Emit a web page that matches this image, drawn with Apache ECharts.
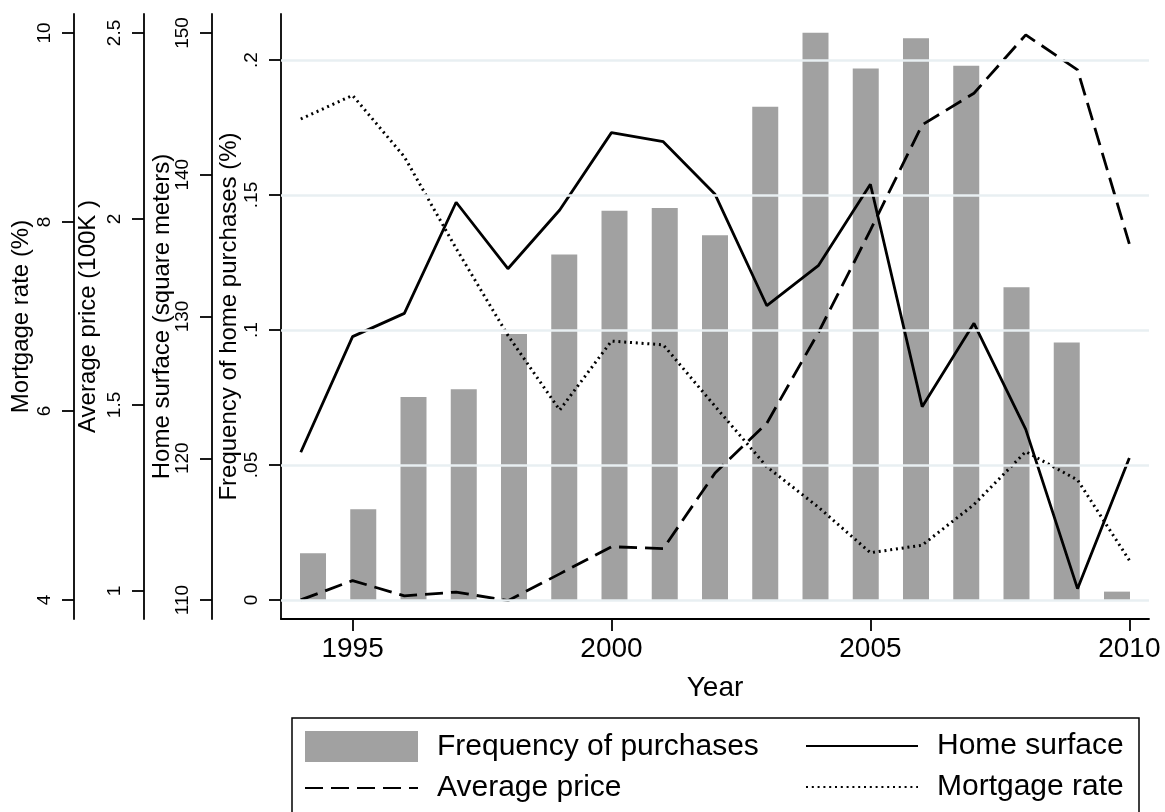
<!DOCTYPE html>
<html>
<head>
<meta charset="utf-8">
<title>Home purchases, surface, price and mortgage rate</title>
<script src="https://cdn.jsdelivr.net/npm/echarts@6/dist/echarts.min.js"></script>
<style>
  html, body { margin: 0; padding: 0; background: #fff; }
  #chart { width: 1165px; height: 812px; }
</style>
</head>
<body>
<div id="chart"></div>
<script>
// Yearly series, 1994-2010
const years = [1994, 1995, 1996, 1997, 1998, 1999, 2000, 2001, 2002,
               2003, 2004, 2005, 2006, 2007, 2008, 2009, 2010];
const purchaseFreq = [0.0173, 0.0336, 0.0752, 0.0781, 0.0985, 0.1280, 0.1442, 0.1452, 0.1351,
                      0.1827, 0.2101, 0.1969, 0.2081, 0.1979, 0.1158, 0.0954, 0.0031];
const homeSurface = [120.42, 128.58, 130.22, 138.06, 133.37, 137.51, 142.97, 142.33, 138.62,
                     130.76, 133.61, 139.33, 123.64, 129.52, 122.04, 110.80, 120.02];
const avgPrice = [0.976, 1.028, 0.987, 0.997, 0.974, 1.046, 1.119, 1.114, 1.317,
                  1.451, 1.696, 1.970, 2.253, 2.338, 2.495, 2.401, 1.933];
const mortgageRate = [9.09, 9.34, 8.69, 7.72, 6.80, 6.01, 6.74, 6.70, 6.05,
                      5.41, 4.98, 4.50, 4.58, 5.01, 5.57, 5.27, 4.42];

// Tick labels
const yearTicks = [1995, 2000, 2005, 2010];
const freqTicks = [0, 0.05, 0.1, 0.15, 0.2];
const surfaceTicks = [110, 120, 130, 140, 150];
const priceTicks = [1, 1.5, 2, 2.5];
const mortgageTicks = [4, 6, 8, 10];

const FONT = '"Liberation Sans", Arial, Helvetica, sans-serif';
const INK = '#000';

const pairs = (vals) => years.map((y, i) => [y, vals[i]]);

function yAxisDef(offset, min, max, ticks, name, gap, fmt) {
  return {
    type: 'value',
    position: 'left',
    offset: offset,
    min: min,
    max: max,
    name: name,
    nameLocation: 'middle',
    nameRotate: 90,
    nameGap: gap,
    nameMoveOverlap: false,
    nameTextStyle: { fontFamily: FONT, fontSize: 24, color: INK },
    axisLine: { show: true, onZero: false, lineStyle: { color: INK, width: 1.8 } },
    axisTick: { show: true, inside: false, length: 12, customValues: ticks,
                lineStyle: { color: INK, width: 1.8 } },
    axisLabel: { show: true, rotate: 90, margin: 20, customValues: ticks,
                 fontFamily: FONT, fontSize: 19, color: INK,
                 formatter: fmt || (v => String(v)) },
    splitLine: { show: false },
    minorTick: { show: false }
  };
}

// legend entries for lines: show the stroke only, no marker
const lineEntry = (name) => ({ name: name, itemStyle: { opacity: 0 } });

const chart = echarts.init(document.getElementById('chart'), null, { renderer: 'canvas' });

chart.setOption({
  animation: false,
  backgroundColor: '#fff',
  grid: { left: 281, right: 16, top: 14, bottom: 193, outerBoundsMode: 'none', containLabel: false },
  xAxis: [
    {
      type: 'value',
      min: 1993.618,
      max: 2010.38,
      name: 'Year',
      nameLocation: 'middle',
      nameGap: 55,
      nameMoveOverlap: false,
      nameTextStyle: { fontFamily: FONT, fontSize: 28, color: INK, verticalAlign: 'top' },
      axisLine: { show: true, onZero: false, lineStyle: { color: INK, width: 1.8 } },
      axisTick: { show: true, length: 12, customValues: yearTicks,
                  lineStyle: { color: INK, width: 1.8 } },
      axisLabel: { show: true, margin: 16, customValues: yearTicks,
                   fontFamily: FONT, fontSize: 28, color: INK,
                   formatter: v => String(v) },
      splitLine: { show: false }
    },
    {
      // bar positions
      type: 'value',
      min: 1993.363,
      max: 2010.637,
      show: false
    }
  ],
  yAxis: [
    yAxisDef(0, -0.00704, 0.21704, freqTicks, 'Frequency of home purchases (%)', 40,
             v => (v === 0 ? '0' : String(v).replace(/^0/, ''))),
    yAxisDef(69, 108.66, 151.34, surfaceTicks, 'Home surface (square meters)', 38),
    yAxisDef(137, 0.9247, 2.551, priceTicks, 'Average price (100K )', 44),
    yAxisDef(207, 3.799, 10.201, mortgageTicks, 'Mortgage rate (%)', 41)
  ],
  legend: [
    {
      left: 304, top: 731, orient: 'vertical', padding: 0,
      itemWidth: 113, itemHeight: 31, itemGap: 11,
      selectedMode: false,
      textStyle: { fontFamily: FONT, fontSize: 30, color: INK, padding: [0, 0, 0, 14] },
      data: [{ name: 'Frequency of purchases', icon: 'rect' }, lineEntry('Average price')]
    },
    {
      left: 805, top: 731, orient: 'vertical', padding: 0,
      itemWidth: 112, itemHeight: 31, itemGap: 11,
      selectedMode: false,
      textStyle: { fontFamily: FONT, fontSize: 30, color: INK, padding: [0, 0, 0, 14] },
      data: [lineEntry('Home surface'), lineEntry('Mortgage rate')]
    }
  ],
  graphic: [
    {
      type: 'rect',
      shape: { x: 292, y: 718, width: 847, height: 100 },
      style: { fill: 'none', stroke: INK, lineWidth: 1.5 },
      silent: true,
      z: 10
    }
  ],
  series: [
    {
      // horizontal reference lines at the frequency ticks
      type: 'line',
      name: 'gridlines',
      xAxisIndex: 0,
      yAxisIndex: 0,
      data: [],
      z: 1,
      silent: true,
      markLine: {
        silent: true,
        symbol: ['none', 'none'],
        label: { show: false },
        lineStyle: { color: '#e8eff2', width: 2.5, type: 'solid' },
        data: freqTicks.map(v => ({ yAxis: v }))
      }
    },
    {
      type: 'bar',
      name: 'Frequency of purchases',
      xAxisIndex: 1,
      yAxisIndex: 0,
      barWidth: 26,
      z: 2,
      itemStyle: { color: '#a1a1a1' },
      data: pairs(purchaseFreq)
    },
    {
      type: 'line',
      name: 'Home surface',
      xAxisIndex: 0,
      yAxisIndex: 1,
      symbol: 'none',
      z: 3,
      lineStyle: { color: INK, width: 2.8, type: 'solid' },
      itemStyle: { color: INK },
      data: pairs(homeSurface)
    },
    {
      type: 'line',
      name: 'Average price',
      xAxisIndex: 0,
      yAxisIndex: 2,
      symbol: 'none',
      z: 3,
      lineStyle: { color: INK, width: 2.8, type: [18, 8] },
      itemStyle: { color: INK },
      data: pairs(avgPrice)
    },
    {
      type: 'line',
      name: 'Mortgage rate',
      xAxisIndex: 0,
      yAxisIndex: 3,
      symbol: 'none',
      z: 3,
      lineStyle: { color: '#000', width: 3, type: [2, 3.8] },
      itemStyle: { color: '#000' },
      data: pairs(mortgageRate)
    }
  ]
});
</script>
</body>
</html>
